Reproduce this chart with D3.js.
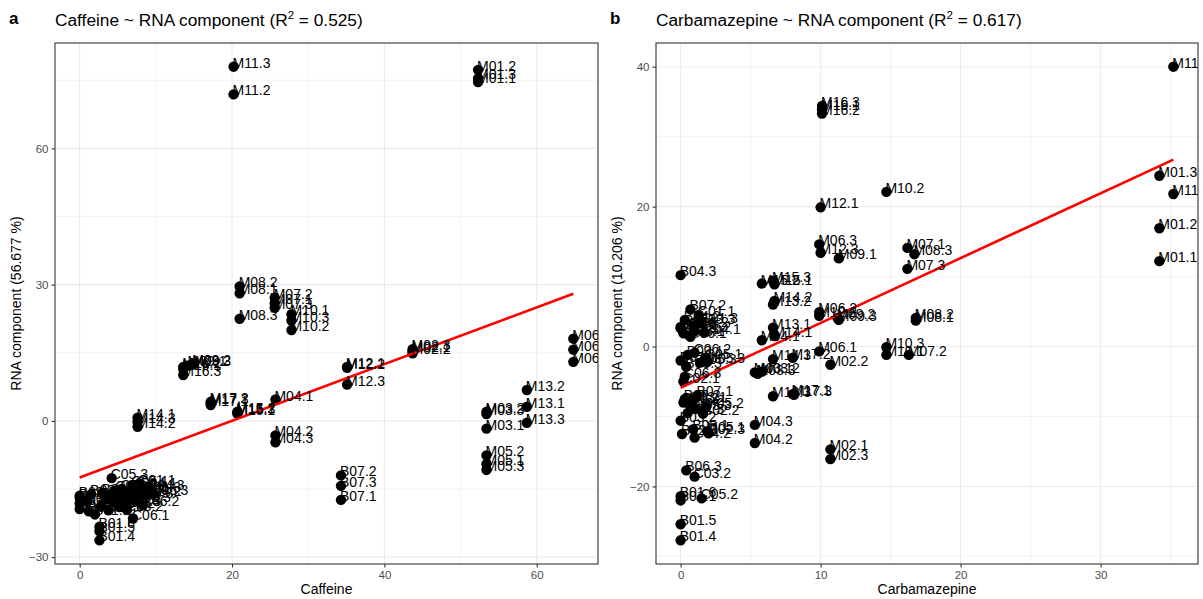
<!DOCTYPE html>
<html>
<head>
<meta charset="utf-8">
<script src="https://cdn.jsdelivr.net/npm/d3@7"></script>
<style>
  body { margin: 0; background: #fff; }
  text { font-family: "Liberation Sans", Arial, Helvetica, sans-serif; }
</style>
</head>
<body>
<svg id="chart" width="1203" height="599"></svg>
<script>
// Sample identifiers (site.replicate)
const sampleIds = [
  "M01.1","M01.2","M01.3","M02.1","M02.2","M02.3","M03.1","M03.2","M03.3",
  "M04.1","M04.2","M04.3","M05.1","M05.2","M05.3","M06.1","M06.2","M06.3",
  "M07.1","M07.2","M07.3","M08.1","M08.2","M08.3","M09.1","M09.2","M09.3",
  "M10.1","M10.2","M10.3","M11.2","M11.3","M12.1","M12.2","M12.3",
  "M13.1","M13.2","M13.3","M14.1","M14.2","M14.3","M15.1","M15.2","M15.3",
  "M16.1","M16.2","M16.3","M17.1","M17.2","M17.3",
  "B01.1","B01.2","B01.3","B01.4","B01.5","B01.6","B02.1","B02.2","B02.3",
  "B03.1","B03.2","B03.3","B04.1","B04.2","B04.3","B05.1","B05.2","B05.3",
  "B06.1","B06.2","B06.3","B07.1","B07.2","B07.3",
  "C01.1","C01.2","C01.3","C02.1","C02.2","C02.3","C03.1","C03.2","C03.3",
  "C04.1","C04.2","C04.3","C05.1","C05.2","C05.3","C06.1","C06.2","C06.3"
];

// Caffeine concentration per sample
const caffeine = [
  52.3,52.3,52.3, 43.7,43.7,43.7, 53.4,53.4,53.4,
  25.7,25.7,25.7, 53.4,53.4,53.4, 64.8,64.8,64.8,
  25.6,25.6,25.6, 21.0,21.0,21.0, 14.3,14.9,14.9,
  27.8,27.8,27.8, 20.2,20.2, 35.1,35.1,35.1,
  58.7,58.7,58.7, 7.6,7.6,7.6, 20.7,20.7,20.7,
  13.6,13.6,13.6, 17.2,17.2,17.2,
  2.0,0.0,0.0,2.6,2.6,2.6, 0.0,1.0,0.0,
  1.5,2.8,1.2, 3.5,3.0,4.0, 4.5,5.2,3.8,
  5.0,5.8,6.0, 34.3,34.3,34.3,
  7.8,6.8,8.5, 5.5,6.4,7.2, 4.8,6.2,7.5,
  8.0,8.6,9.0, 6.9,5.7,4.2, 7.0,8.3,9.5
];

// RNA component score paired with caffeine (56.677 % of variance)
const rnaCaffeine = [
  74.6,77.3,75.4, 15.3,14.9,15.8, -1.7,2.0,1.5,
  4.7,-3.2,-4.7, -9.5,-7.6,-10.8, 13.0,18.1,15.7,
  25.9,27.1,24.9, 28.1,29.6,22.5, 12.2,12.6,12.4,
  23.5,20.0,22.1, 71.9,78.0, 11.9,11.7,8.0,
  3.1,6.8,-0.4, 0.7,-1.3,-0.2, 1.6,2.0,1.8,
  11.4,11.9,10.1, 3.5,4.2,3.9,
  -20.6,-17.0,-18.2,-26.3,-24.3,-23.3, -16.5,-17.8,-19.4,
  -16.2,-18.8,-19.9, -17.2,-15.8,-16.5, -17.8,-19.0,-19.7,
  -16.0,-17.2,-18.5, -17.4,-12.0,-14.3,
  -13.8,-15.2,-15.5, -15.0,-16.4,-17.6, -15.3,-19.6,-16.8,
  -14.6,-16.4,-15.0, -14.1,-18.0,-12.6, -21.5,-18.6,-16.0
];

// Carbamazepine concentration per sample
const carbamazepine = [
  34.2,34.2,34.2, 10.7,10.7,10.7, 5.3,5.8,5.5,
  5.8,5.3,5.3, 1.9,1.8,1.9, 9.9,9.9,9.9,
  16.2,16.3,16.2, 16.8,16.8,16.7, 11.3,11.2,11.3,
  14.7,14.7,14.7, 35.2,35.2, 10.0,9.9,10.0,
  6.6,6.6,6.6, 6.7,6.7,6.6, 6.7,5.8,6.6,
  10.1,10.1,10.1, 8.0,8.0,8.1,
  0.0,0.2,0.0,0.0,0.0,0.0, 0.0,0.3,0.1,
  0.5,0.0,0.4, 0.0,0.3,0.0, 0.9,0.6,1.1,
  0.6,0.9,0.4, 1.2,0.7,0.2,
  1.3,1.0,1.5, 0.2,1.6,2.0, 0.7,1.0,1.3,
  1.7,1.0,0.5, 1.8,1.5,1.4, 0.7,1.0,0.3
];

// RNA component score paired with carbamazepine (10.206 % of variance)
const rnaCarbamazepine = [
  12.2,16.9,24.4, -14.7,-2.6,-16.1, -3.7,-3.6,-3.9,
  0.9,-13.8,-11.2, -12.1,-8.6,-2.2, -0.7,4.9,14.6,
  14.1,-1.2,11.1, 3.7,4.1,13.2, 12.6,4.1,3.8,
  -1.2,22.1,-0.1, 21.8,40.0, 19.9,4.4,13.4,
  2.7,6.0,-7.1, 1.5,6.5,-1.8, 8.9,9.0,9.4,
  33.9,33.3,34.4, -6.8,-1.6,-6.9,
  -22.0,-8.0,2.8,-27.7,-25.4,-21.4, -2.0,-7.5,-12.5,
  -1.2,-10.6,-2.9, 2.6,3.8,10.2, -11.8,-8.2,-8.9,
  1.6,3.0,-17.7, -7.0,5.3,1.9,
  4.5,2.2,3.5, -5.0,-9.6,-12.4, -7.8,-18.6,3.3,
  2.0,-13.0,-9.5, -1.6,-21.7,-2.3, 1.4,-0.9,-4.3
];

// Axis break labels
const caffeineTicks = [0, 20, 40, 60];
const rnaCaffeineTicks = [-30, 0, 30, 60];
const carbamazepineTicks = [0, 10, 20, 30];
const rnaCarbamazepineTicks = [-20, 0, 20, 40];

// Panel text
const panelTags = ["a", "b"];
const panelTitles = [
  ["Caffeine ~ RNA component (R", "2", " = 0.525)"],
  ["Carbamazepine ~ RNA component (R", "2", " = 0.617)"]
];
const xTitles = ["Caffeine", "Carbamazepine"];
const yTitles = ["RNA component (56.677 %)", "RNA component (10.206 %)"];

const svg = d3.select("#chart");

function expand(ext) {
  const pad = (ext[1] - ext[0]) * 0.05;
  return [ext[0] - pad, ext[1] + pad];
}

function minorBreaks(major, domain) {
  const step = major[1] - major[0];
  const out = [];
  for (let v = major[0] - step / 2; v <= major[major.length - 1] + step; v += step) {
    if (v >= domain[0] && v <= domain[1]) out.push(v);
  }
  return out;
}

function leastSquares(xs, ys) {
  const mx = d3.mean(xs), my = d3.mean(ys);
  let sxy = 0, sxx = 0;
  xs.forEach((v, i) => { sxy += (v - mx) * (ys[i] - my); sxx += (v - mx) ** 2; });
  const slope = sxy / sxx;
  return { slope, intercept: my - slope * mx };
}

function drawPanel(idx, box, xs, ys, xTicks, yTicks) {
  const g = svg.append("g");
  const xDom = expand(d3.extent(xs));
  const yDom = expand(d3.extent(ys));
  const x = d3.scaleLinear().domain(xDom).range([box.left, box.right]);
  const y = d3.scaleLinear().domain(yDom).range([box.bottom, box.top]);
  const pts = sampleIds.map((id, i) => ({ id, x: xs[i], y: ys[i] }));

  const clipId = "clip" + idx;
  svg.append("clipPath").attr("id", clipId).append("rect")
    .attr("x", box.left).attr("y", box.top)
    .attr("width", box.right - box.left).attr("height", box.bottom - box.top);

  // grid
  const grid = g.append("g");
  grid.selectAll(".vminor").data(minorBreaks(xTicks, xDom)).join("line")
    .attr("x1", d => x(d)).attr("x2", d => x(d)).attr("y1", box.top).attr("y2", box.bottom)
    .attr("stroke", "#EBEBEB").attr("stroke-width", 0.6);
  grid.selectAll(".hminor").data(minorBreaks(yTicks, yDom)).join("line")
    .attr("y1", d => y(d)).attr("y2", d => y(d)).attr("x1", box.left).attr("x2", box.right)
    .attr("stroke", "#EBEBEB").attr("stroke-width", 0.6);
  grid.selectAll(".vmajor").data(xTicks).join("line")
    .attr("x1", d => x(d)).attr("x2", d => x(d)).attr("y1", box.top).attr("y2", box.bottom)
    .attr("stroke", "#EBEBEB").attr("stroke-width", 1.1);
  grid.selectAll(".hmajor").data(yTicks).join("line")
    .attr("y1", d => y(d)).attr("y2", d => y(d)).attr("x1", box.left).attr("x2", box.right)
    .attr("stroke", "#EBEBEB").attr("stroke-width", 1.1);

  const plot = g.append("g").attr("clip-path", `url(#${clipId})`);

  // points
  plot.selectAll("circle").data(pts).join("circle")
    .attr("cx", d => x(d.x)).attr("cy", d => y(d.y)).attr("r", 5.2)
    .attr("fill", "#000");

  // linear fit
  const fit = leastSquares(xs, ys);
  const xr = d3.extent(xs);
  plot.append("line")
    .attr("x1", x(xr[0])).attr("y1", y(fit.intercept + fit.slope * xr[0]))
    .attr("x2", x(xr[1])).attr("y2", y(fit.intercept + fit.slope * xr[1]))
    .attr("stroke", "#FF0000").attr("stroke-width", 2.6);

  // sample labels
  plot.selectAll("text.lab").data(pts).join("text").attr("class", "lab")
    .attr("x", d => x(d.x) - 1).attr("y", d => y(d.y) + 1)
    .attr("font-size", 14).attr("fill", "#000")
    .text(d => d.id);

  // border
  g.append("rect").attr("x", box.left).attr("y", box.top)
    .attr("width", box.right - box.left).attr("height", box.bottom - box.top)
    .attr("fill", "none").attr("stroke", "#333333").attr("stroke-width", 1.1);

  // axes
  const xAxis = g.append("g").attr("transform", `translate(0,${box.bottom})`)
    .call(d3.axisBottom(x).tickValues(xTicks).tickSize(3.5).tickPadding(3));
  const yAxis = g.append("g").attr("transform", `translate(${box.left},0)`)
    .call(d3.axisLeft(y).tickValues(yTicks).tickSize(3.5).tickPadding(3));
  [xAxis, yAxis].forEach(a => {
    a.select(".domain").remove();
    a.selectAll(".tick line").attr("stroke", "#333333").attr("stroke-width", 1.1);
    a.selectAll(".tick text").attr("fill", "#4D4D4D").attr("font-size", 11.5)
      .attr("font-family", '"Liberation Sans", Arial, sans-serif');
  });

  // axis titles
  g.append("text").attr("x", (box.left + box.right) / 2).attr("y", box.bottom + 30)
    .attr("text-anchor", "middle").attr("font-size", 14).attr("fill", "#000")
    .text(xTitles[idx]);
  g.append("text")
    .attr("transform", `translate(${box.left - 34},${(box.top + box.bottom) / 2}) rotate(-90)`)
    .attr("text-anchor", "middle").attr("font-size", 14).attr("fill", "#000")
    .text(yTitles[idx]);

  // title + tag
  const t = g.append("text").attr("x", box.left).attr("y", 26)
    .attr("font-size", 17.3).attr("fill", "#000");
  t.append("tspan").text(panelTitles[idx][0]);
  t.append("tspan").attr("font-size", 11.5).attr("dy", -7).text(panelTitles[idx][1]);
  t.append("tspan").attr("dy", 7).text(panelTitles[idx][2]);
  g.append("text").attr("x", box.left - 46).attr("y", 24)
    .attr("font-size", 17).attr("font-weight", "bold").attr("fill", "#000")
    .text(panelTags[idx]);
}

drawPanel(0, { left: 55, right: 598, top: 43, bottom: 564 },
  caffeine, rnaCaffeine, caffeineTicks, rnaCaffeineTicks);
drawPanel(1, { left: 656, right: 1198, top: 43, bottom: 564 },
  carbamazepine, rnaCarbamazepine, carbamazepineTicks, rnaCarbamazepineTicks);
</script>
</body>
</html>
